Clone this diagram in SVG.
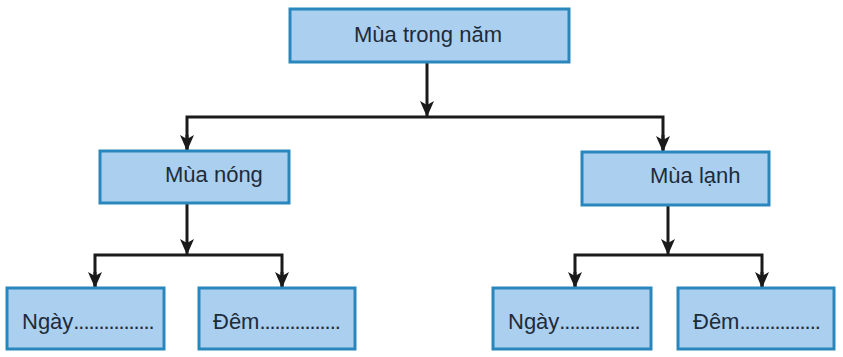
<svg xmlns="http://www.w3.org/2000/svg" width="843" height="357" viewBox="0 0 843 357">
<defs>
<style>
.box{fill:#abcfee;stroke:#2a87bd;stroke-width:3}
.t{font-family:"Liberation Sans",Arial,sans-serif;font-size:22px;fill:#1e2b3a}
.d{letter-spacing:-1.1px}
.c{fill:none;stroke:#1a1a1a;stroke-width:3}
</style>
<marker id="ah" markerWidth="16" markerHeight="14" refX="15" refY="7" orient="auto" markerUnits="userSpaceOnUse" viewBox="0 0 16 14">
<path d="M0,0 L4,7 L0,14 L16,7 Z" fill="#1a1a1a"/>
</marker>
</defs>
<rect width="843" height="357" fill="#ffffff"/>
<g id="connectors">
<path class="c" d="M427,63 V116" marker-end="url(#ah)"/>
<path class="c" d="M187,150 V117 H663 V150"/>
<path class="c" d="M187,135 V150" marker-end="url(#ah)"/>
<path class="c" d="M663,135 V151" marker-end="url(#ah)"/>
<path class="c" d="M187,203 V254" marker-end="url(#ah)"/>
<path class="c" d="M95,287 V255 H282 V287"/>
<path class="c" d="M95,272 V287" marker-end="url(#ah)"/>
<path class="c" d="M282,272 V287" marker-end="url(#ah)"/>
<path class="c" d="M668,205 V254" marker-end="url(#ah)"/>
<path class="c" d="M575,287 V255 H762 V287"/>
<path class="c" d="M575,272 V287" marker-end="url(#ah)"/>
<path class="c" d="M762,272 V287" marker-end="url(#ah)"/>
</g>
<g id="n-root">
<rect class="box" x="290" y="9" width="279" height="53"/>
<text class="t" x="428" y="42" text-anchor="middle">Mùa trong năm</text>
</g>
<g id="n-nong">
<rect class="box" x="100" y="151" width="189" height="52"/>
<text class="t" x="165" y="182">Mùa nóng</text>
</g>
<g id="n-lanh">
<rect class="box" x="582" y="152" width="187" height="53"/>
<text class="t" x="650" y="183">Mùa lạnh</text>
</g>
<g id="n-ngay1">
<rect class="box" x="7" y="288" width="157" height="61"/>
<text class="t" x="22" y="329">Ngày<tspan class="d">................</tspan></text>
</g>
<g id="n-dem1">
<rect class="box" x="199" y="288" width="156" height="61"/>
<text class="t" x="213" y="329">Đêm<tspan class="d">................</tspan></text>
</g>
<g id="n-ngay2">
<rect class="box" x="493" y="288" width="158" height="61"/>
<text class="t" x="508" y="329">Ngày<tspan class="d">................</tspan></text>
</g>
<g id="n-dem2">
<rect class="box" x="678" y="288" width="156" height="61"/>
<text class="t" x="693" y="329">Đêm<tspan class="d">................</tspan></text>
</g>
</svg>
